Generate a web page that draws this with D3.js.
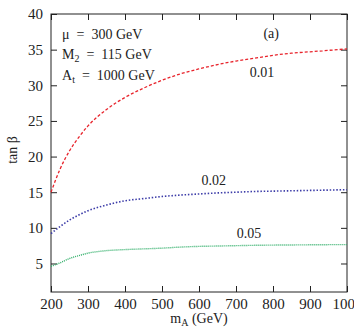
<!DOCTYPE html>
<html>
<head>
<meta charset="utf-8">
<script src="https://cdn.jsdelivr.net/npm/d3@7"></script>
<style>
  body { margin: 0; background: #fff; }
  text { font-family: "Liberation Serif", "Times New Roman", serif; fill: #222; }
</style>
</head>
<body>
<svg id="chart" width="354" height="327"></svg>
<script>
// m_A values (GeV) the curves are sampled at
var mA = [200, 225, 250, 275, 300, 350, 400, 450, 500, 550, 600, 650, 700, 750, 800, 850, 900, 950, 1000];

// tan beta for each contour
var tb001 = [15.0, 18.3, 20.8, 22.7, 24.3, 26.6, 28.3, 29.6, 30.7, 31.6, 32.3, 32.9, 33.4, 33.8, 34.2, 34.5, 34.7, 34.9, 35.1];
var tb002 = [9.2, 10.2, 11.1, 11.8, 12.4, 13.2, 13.8, 14.1, 14.4, 14.6, 14.75, 14.9, 15.0, 15.1, 15.15, 15.2, 15.25, 15.3, 15.35];
var tb005 = [4.6, 5.1, 5.7, 6.1, 6.45, 6.8, 6.95, 7.05, 7.15, 7.3, 7.4, 7.45, 7.5, 7.55, 7.58, 7.6, 7.62, 7.64, 7.65];

var xTicks = [200, 300, 400, 500, 600, 700, 800, 900, 1000];
var yTicks = [5, 10, 15, 20, 25, 30, 35, 40];

var svg = d3.select("#chart");

// plot frame (window.top is taken, hence the prefix)
var pLeft = 51, pRight = 347, pTop = 14, pBottom = 292;

var x = d3.scaleLinear().domain([200, 1000]).range([pLeft, pRight]);
var y = d3.scaleLinear().domain([1, 40]).range([pBottom, pTop]);

// axes, ticks pointing inward
var tickLen = 6;
svg.append("g").attr("transform", "translate(0," + pBottom + ")")
  .call(d3.axisBottom(x).tickValues(xTicks).tickSizeInner(-tickLen).tickSizeOuter(0).tickPadding(6).tickFormat(d3.format("d")));
svg.append("g").attr("transform", "translate(0," + pTop + ")")
  .call(d3.axisTop(x).tickValues(xTicks).tickSizeInner(-tickLen).tickSizeOuter(0).tickFormat(""));
svg.append("g").attr("transform", "translate(" + pLeft + ",0)")
  .call(d3.axisLeft(y).tickValues(yTicks).tickSizeInner(-tickLen).tickSizeOuter(0).tickPadding(8));
svg.append("g").attr("transform", "translate(" + pRight + ",0)")
  .call(d3.axisRight(y).tickValues(yTicks).tickSizeInner(-tickLen).tickSizeOuter(0).tickFormat(""));

svg.selectAll(".domain").remove();
svg.selectAll(".tick line").attr("stroke", "#222");
svg.selectAll(".tick text").style("font-size", "15px").style("font-family", "Liberation Serif, serif").attr("fill", "#222");

svg.append("rect")
  .attr("x", pLeft).attr("y", pTop)
  .attr("width", pRight - pLeft).attr("height", pBottom - pTop)
  .attr("fill", "none").attr("stroke", "#222").attr("stroke-width", 1);

// curves
var line = d3.line().curve(d3.curveMonotoneX);
var series = [
  { vals: tb001, color: "#e8242c", dash: "3,2", width: 1.3 },
  { vals: tb002, color: "#3c3ca8", dash: "1.5,1.8", width: 1.6 },
  { vals: tb005, color: "#2fae68", dash: "1,1", width: 1.4 }
];
series.forEach(function(s) {
  svg.append("path")
    .attr("d", line(mA.map(function(m, i) { return [x(m), y(s.vals[i])]; })))
    .attr("fill", "none")
    .attr("stroke", s.color)
    .attr("stroke-width", s.width)
    .attr("stroke-dasharray", s.dash);
});

// curve labels
svg.append("text").attr("x", x(770)).attr("y", y(31.2)).attr("text-anchor", "middle").style("font-size", "14px").text("0.01");
svg.append("text").attr("x", x(640)).attr("y", y(16.0)).attr("text-anchor", "middle").style("font-size", "14px").text("0.02");
svg.append("text").attr("x", x(735)).attr("y", y(8.6)).attr("text-anchor", "middle").style("font-size", "14px").text("0.05");
svg.append("text").attr("x", x(795)).attr("y", y(36.6)).attr("text-anchor", "middle").style("font-size", "14px").text("(a)");

// parameter box
var ann = svg.append("g").style("font-size", "14px");
ann.append("text").attr("x", 62).attr("y", 39).text("\u03bc\u2002=\u2002300 GeV");
var m2 = ann.append("text").attr("x", 62).attr("y", 59);
m2.append("tspan").text("M");
m2.append("tspan").attr("dy", 3).style("font-size", "10px").text("2");
m2.append("tspan").attr("dy", -3).text("\u2002=\u2002115 GeV");
var at = ann.append("text").attr("x", 62).attr("y", 80);
at.append("tspan").text("A");
at.append("tspan").attr("dy", 3).style("font-size", "10px").text("t");
at.append("tspan").attr("dy", -3).text("\u2002=\u20021000 GeV");

// axis titles
var xt = svg.append("text").attr("x", 199).attr("y", 323).attr("text-anchor", "middle").style("font-size", "14px");
xt.append("tspan").text("m");
xt.append("tspan").attr("dy", 3).style("font-size", "10px").text("A");
xt.append("tspan").attr("dy", -3).text(" (GeV)");

svg.append("text")
  .attr("transform", "translate(17,150) rotate(-90)")
  .attr("text-anchor", "middle")
  .style("font-size", "14px")
  .text("tan \u03b2");
</script>
</body>
</html>
